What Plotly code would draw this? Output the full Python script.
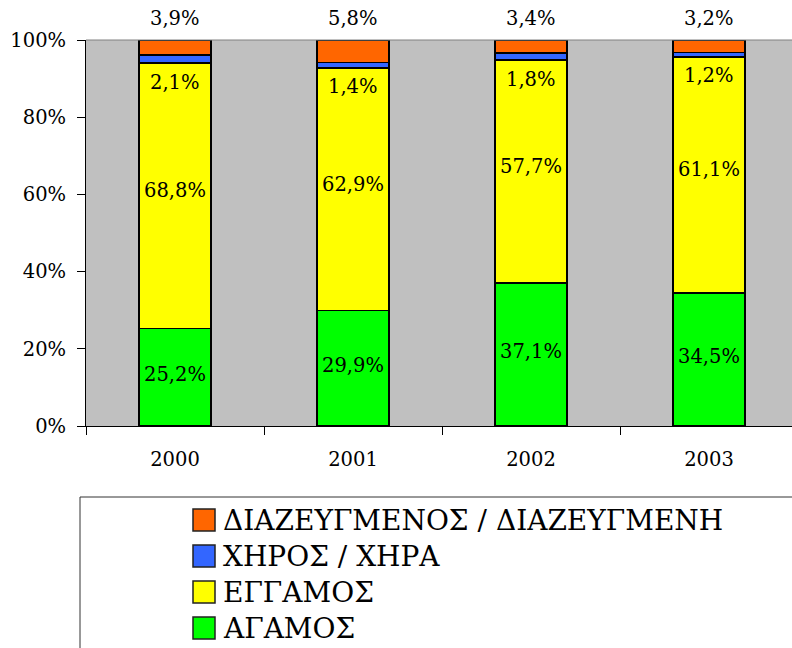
import plotly.graph_objects as go

years = ["2000", "2001", "2002", "2003"]
series_names = ["ΑΓΑΜΟΣ", "ΕΓΓΑΜΟΣ", "ΧΗΡΟΣ / ΧΗΡΑ", "ΔΙΑΖΕΥΓΜΕΝΟΣ / ΔΙΑΖΕΥΓΜΕΝΗ"]
agamos = [25.2, 29.9, 37.1, 34.5]
eggamos = [68.8, 62.9, 57.7, 61.1]
xiros = [2.1, 1.4, 1.8, 1.2]
diazeugmenos = [3.9, 5.8, 3.4, 3.2]
colors = ["#00FF00", "#FFFF00", "#3366FF", "#FF6600"]
y_ticks = [0, 20, 40, 60, 80, 100]

W, H = 792, 648
L, T, B = 86, 40, 222
PW = W - L
PH = H - T - B
FONT = "DejaVu Serif"


def px2paper(x, y):
    return (x - L) / PW, (H - B - y) / PH


fig = go.Figure()
all_series = [agamos, eggamos, xiros, diazeugmenos]
for name, vals, col in zip(series_names, all_series, colors):
    fig.add_trace(go.Bar(
        x=years, y=vals, name=name,
        marker=dict(color=col, line=dict(color="black", width=1.5)),
        showlegend=False, hoverinfo="skip",
    ))

ann = []
fmt = lambda v: f"{v:.1f}%".replace(".", ",")
lab_font = dict(family=FONT, size=19.5, color="black")
for i, yr in enumerate(years):
    ann.append(dict(x=i, y=agamos[i] / 2, text=fmt(agamos[i]), showarrow=False,
                    xref="x", yref="y", yanchor="middle", yshift=3, font=lab_font))
    ann.append(dict(x=i, y=agamos[i] + eggamos[i] / 2, text=fmt(eggamos[i]), showarrow=False,
                    xref="x", yref="y", yanchor="middle", yshift=5, font=lab_font))
    ann.append(dict(x=i, y=agamos[i] + eggamos[i], text=fmt(xiros[i]), showarrow=False,
                    xref="x", yref="y", yanchor="middle", yshift=-19, font=lab_font))
    ann.append(dict(x=i, y=100, text=fmt(diazeugmenos[i]), showarrow=False,
                    xref="x", yref="y", yanchor="middle", yshift=22, font=lab_font))

shapes = []
shapes.append(dict(type="line", xref="paper", yref="paper", x0=0, x1=1, y0=1, y1=1,
                   line=dict(color="#808080", width=1)))
x0, y0 = px2paper(80, 497)
x1, y1 = px2paper(800, 660)
shapes.append(dict(type="rect", xref="paper", yref="paper", x0=x0, y0=y1, x1=x1, y1=y0,
                   line=dict(color="#333333", width=1), fillcolor="white"))
for k, idx in enumerate(reversed(range(len(series_names)))):
    cy = 520 + 36 * k
    sx0, sy0 = px2paper(193, cy - 11)
    sx1, sy1 = px2paper(215, cy + 11)
    shapes.append(dict(type="rect", xref="paper", yref="paper", x0=sx0, x1=sx1, y0=sy1, y1=sy0,
                       fillcolor=colors[idx], line=dict(color="#222222", width=1.5)))
    tx, ty = px2paper(221, cy)
    ann.append(dict(x=tx, y=ty, xref="paper", yref="paper", text=series_names[idx],
                    showarrow=False, xanchor="left", yanchor="middle",
                    font=dict(size=28, family=FONT, color="black")))

fig.update_layout(
    width=W, height=H,
    margin=dict(l=L, r=0, t=T, b=B),
    barmode="stack",
    bargap=0.595,
    plot_bgcolor="#C0C0C0",
    paper_bgcolor="white",
    font=dict(family=FONT, size=20, color="black"),
    annotations=ann,
    shapes=shapes,
    showlegend=False,
)
fig.update_xaxes(
    type="category", range=[-0.5, 3.5 - 6 / 178],
    showline=True, linecolor="black", linewidth=1,
    ticks="outside", ticklen=8, tickcolor="black", tickson="boundaries",
    ticklabelstandoff=16, showgrid=False, tickfont=dict(family=FONT, size=19.5),
)
fig.update_yaxes(
    range=[0, 100], tickvals=y_ticks, ticktext=[f"{v}%" for v in y_ticks],
    showline=True, linecolor="black", linewidth=1,
    ticks="outside", ticklen=8, tickcolor="black",
    showgrid=False, zeroline=False, ticklabelstandoff=7, tickfont=dict(family=FONT, size=19.5),
)

fig.write_html("out.html", config={"displayModeBar": False},
               post_script="document.body.style.margin='0';document.body.style.overflow='hidden';")
